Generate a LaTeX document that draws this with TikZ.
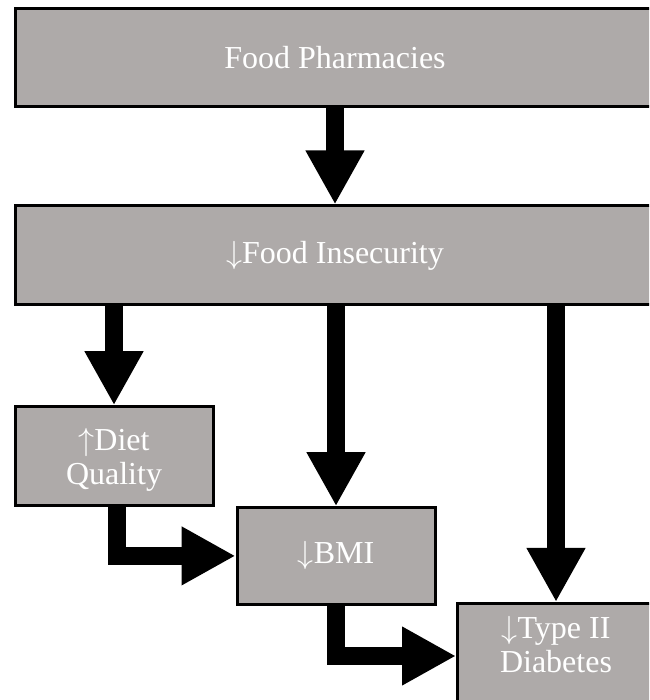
\RequirePackage{fix-cm}
\documentclass[tikz,border=0pt]{standalone}
\usepackage{fontspec}
\setmainfont{Liberation Serif}
\usetikzlibrary{arrows.meta}
\definecolor{BoxGray}{RGB}{174,170,169}

\begin{document}
\begin{tikzpicture}[x=1pt,y=1pt,
  box/.style={draw=black,line width=3pt,fill=BoxGray,text=white,align=center,
    font=\fontsize{32}{34}\selectfont,inner sep=0pt},
  fat/.style={line width=18pt,line join=miter,-{Triangle[width=55pt,length=54pt]}}]
  \clip (0,0) rectangle (649,700);
  \node[box,minimum width=640pt,minimum height=98.5pt] (pharm) at (335,642.25) {Food Pharmacies};
  \node[box,minimum width=640pt,minimum height=99pt] (insec) at (335,444.5) {\(\downarrow\)Food Insecurity};
  \node[box,minimum width=198pt,minimum height=98.3pt,text depth=0pt] (diet) at (114,244.1) {\(\uparrow\)Diet\\Quality};
  \node[box,minimum width=198pt,minimum height=96.3pt] (bmi) at (336,144.1) {\(\downarrow\)BMI};
  \node[box,minimum width=197pt,minimum height=105pt,text depth=23pt] (diab) at (556,44) {\(\downarrow\)Type II\\Diabetes};
  \draw[fat] (pharm.south) -- (insec.north);
  \draw[fat] (insec.south -| diet.north) -- (diet.north);
  \draw[fat] (insec.south -| bmi.north) -- (bmi.north);
  \draw[fat] (insec.south -| diab.north) -- (diab.north);
  \draw[fat] ([xshift=3pt]diet.south) |- (bmi.west);
  \draw[fat] (bmi.south) |- (diab.west);
\end{tikzpicture}
\end{document}
